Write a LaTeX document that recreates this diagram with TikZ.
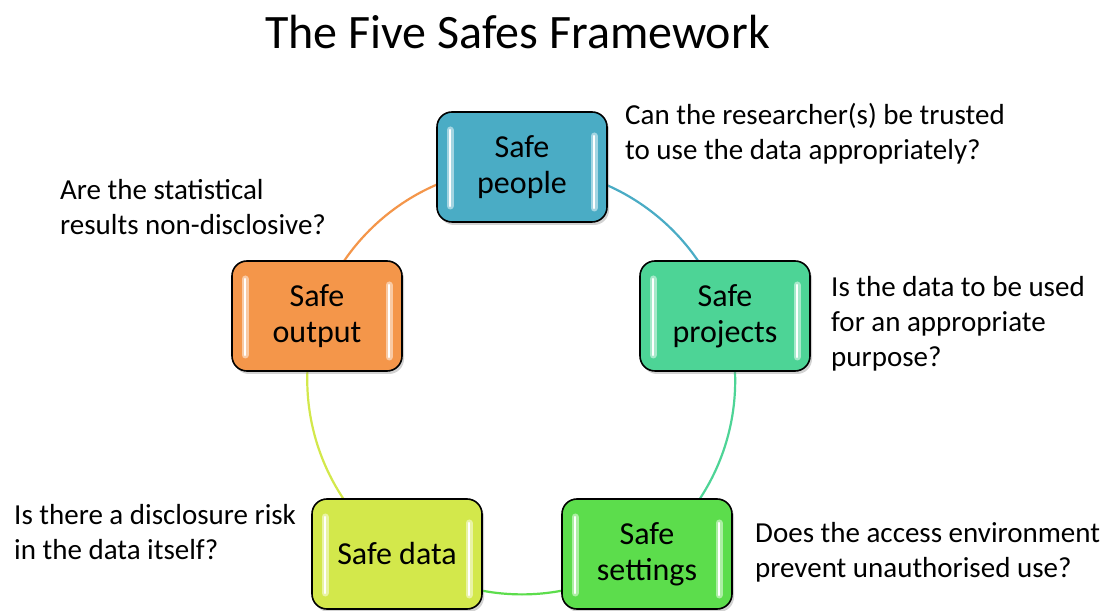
\documentclass[tikz,border=0pt]{standalone}
\usepackage{fontspec}
\setmainfont{Carlito}
\usetikzlibrary{shadows,backgrounds}
\definecolor{cpeople}{HTML}{4AACC5}
\definecolor{cprojects}{HTML}{4DD496}
\definecolor{csettings}{HTML}{5CDD4C}
\definecolor{cdata}{HTML}{D3E84B}
\definecolor{coutput}{HTML}{F4964A}
\tikzset{
  safebox/.style={draw=black, line width=1.6pt, rounded corners=15pt,
    minimum width=170pt, minimum height=110pt, inner sep=0pt, align=center,
    font=\fontsize{32}{36}\selectfont, fill=#1,
    drop shadow={opacity=0.35, shadow xshift=2pt, shadow yshift=-3pt},
    path picture={
      \draw[white, opacity=0.5, line width=7pt, line cap=round]
        ([shift={(13pt,-18pt)}]path picture bounding box.north west) --
        ([shift={(13pt,16pt)}]path picture bounding box.south west);
      \draw[white, opacity=0.5, line width=7pt, line cap=round]
        ([shift={(-13pt,-24pt)}]path picture bounding box.north east) --
        ([shift={(-13pt,14pt)}]path picture bounding box.south east);
      \draw[white, line width=2.2pt, line cap=round]
        ([shift={(13pt,-18pt)}]path picture bounding box.north west) --
        ([shift={(13pt,16pt)}]path picture bounding box.south west);
      \draw[white, line width=2.2pt, line cap=round]
        ([shift={(-13pt,-24pt)}]path picture bounding box.north east) --
        ([shift={(-13pt,14pt)}]path picture bounding box.south east);
    }},
  ring/.style={line width=2.2pt, bend left=36, looseness=0.94},
  question/.style={anchor=base west, inner sep=0pt, font=\fontsize{29}{35}\selectfont},
  titletext/.style={anchor=base, inner sep=0pt, font=\fontsize{48}{56}\selectfont}
}
\begin{document}
\begin{tikzpicture}[x=1pt,y=1pt]
\useasboundingbox (0,0) rectangle (1107,610);

\node[titletext] (title) at (517.5,561) {The Five Safes Framework};

\node[safebox=cpeople]   (people)   at (522,443) {Safe\\people};
\node[safebox=cprojects] (projects) at (725,294) {Safe\\projects};
\node[safebox=csettings] (settings) at (647,56)  {Safe\\settings};
\node[safebox=cdata]     (data)     at (397,56)  {Safe data};
\node[safebox=coutput]   (output)   at (317,294) {Safe\\output};

\begin{scope}[on background layer]
\fill[white] (0,0) rectangle (1107,610);
\draw[ring, draw=cpeople]   (people.center)   to (projects.center);
\draw[ring, draw=cprojects] (projects.center) to (settings.center);
\draw[ring, draw=csettings] (settings.center) to (data.center);
\draw[ring, draw=cdata]     (data.center)     to (output.center);
\draw[ring, draw=coutput]   (output.center)   to (people.center);
\end{scope}

\node[question] (q1) at (625,485) {\begin{tabular}[t]{@{}l@{}}Can the researcher(s) be trusted\\to use the data appropriately?\end{tabular}};
\node[question] (q2) at (60,410) {\begin{tabular}[t]{@{}l@{}}Are the statistical\\results non-disclosive?\end{tabular}};
\node[question] (q3) at (831,313) {\begin{tabular}[t]{@{}l@{}}Is the data to be used\\for an appropriate\\purpose?\end{tabular}};
\node[question] (q4) at (14,85) {\begin{tabular}[t]{@{}l@{}}Is there a disclosure risk\\in the data itself?\end{tabular}};
\node[question] (q5) at (755,67) {\begin{tabular}[t]{@{}l@{}}Does the access environment\\prevent unauthorised use?\end{tabular}};
\end{tikzpicture}
\end{document}
